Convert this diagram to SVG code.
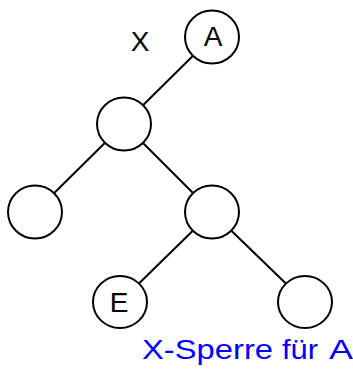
<svg xmlns="http://www.w3.org/2000/svg" width="353" height="370" viewBox="0 0 353 370">
<style>
.edge{stroke:#000;stroke-width:2;fill:none}
.node{fill:#fff;stroke:#000;stroke-width:2}
.lbl{font-family:"Liberation Sans",Arial,sans-serif;font-size:28px;fill:#000;text-anchor:middle}
.note{font-family:"Liberation Sans",Arial,sans-serif;font-size:28px;fill:#0000ff}
</style>
<rect width="353" height="370" fill="#fff"/>
<g id="connectors">
<line class="edge" x1="212" y1="37" x2="124" y2="124"/>
<line class="edge" x1="124" y1="124" x2="35" y2="212"/>
<line class="edge" x1="124" y1="124" x2="212" y2="212"/>
<line class="edge" x1="212" y1="212" x2="120" y2="302"/>
<line class="edge" x1="212" y1="212" x2="305" y2="302"/>
</g>
<g id="nodeA"><ellipse class="node" cx="212" cy="37" rx="27" ry="26.5"/><text class="lbl" x="213" y="46">A</text></g>
<g id="nodeM"><ellipse class="node" cx="124" cy="124" rx="27" ry="26.5"/></g>
<g id="nodeL"><ellipse class="node" cx="35" cy="212" rx="27" ry="26.5"/></g>
<g id="nodeR"><ellipse class="node" cx="212" cy="212" rx="27" ry="26.5"/></g>
<g id="nodeE"><ellipse class="node" cx="120" cy="302" rx="27" ry="26"/><text class="lbl" x="119" y="312">E</text></g>
<g id="nodeRB"><ellipse class="node" cx="305" cy="302" rx="27" ry="26"/></g>
<text class="lbl" x="140" y="51">X</text>
<text class="note" y="359"><tspan x="142" textLength="131" lengthAdjust="spacingAndGlyphs">X-Sperre</tspan><tspan x="282" textLength="36" lengthAdjust="spacingAndGlyphs">für</tspan><tspan x="329" textLength="24" lengthAdjust="spacingAndGlyphs">A</tspan></text>
</svg>
